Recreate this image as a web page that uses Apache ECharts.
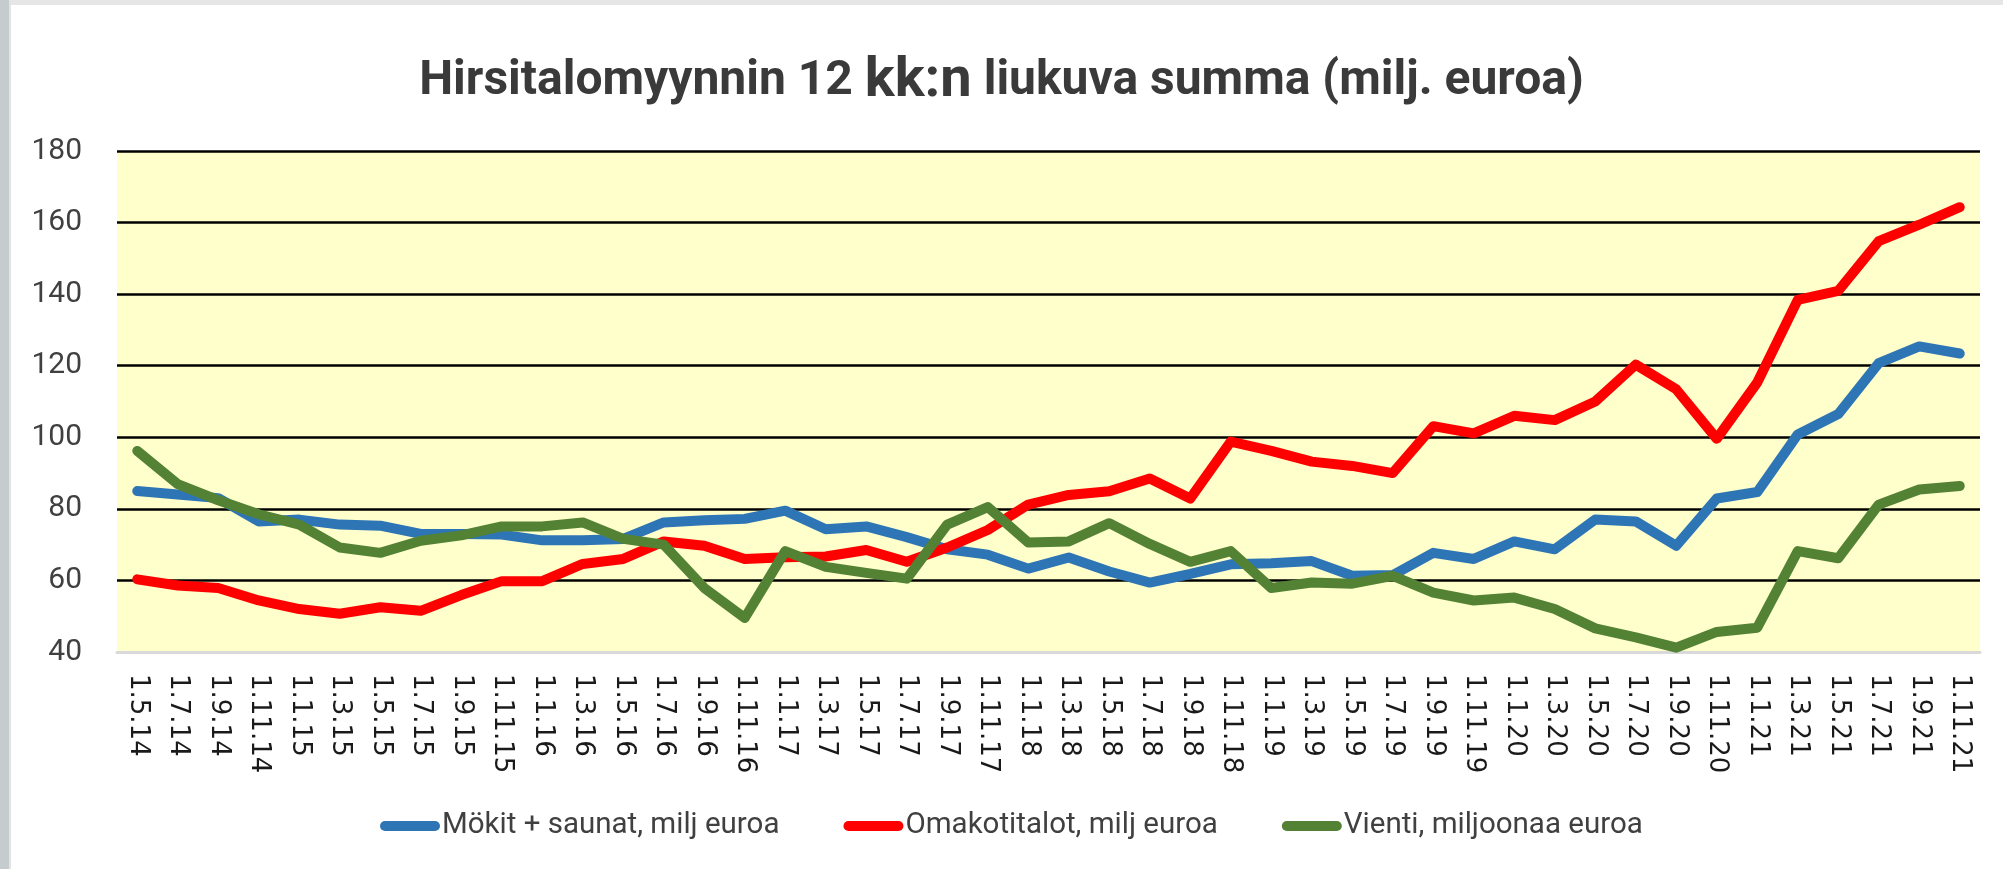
<!DOCTYPE html>
<html><head><meta charset="utf-8">
<script src="https://cdn.jsdelivr.net/npm/echarts@6/dist/echarts.min.js"></script>
<style>html,body{margin:0;padding:0;background:#fff}#c{width:2003px;height:869px}</style>
</head><body><div id="c"></div>
<script>
const categories = ['1.5.14','1.7.14','1.9.14','1.11.14','1.1.15','1.3.15','1.5.15','1.7.15','1.9.15','1.11.15','1.1.16','1.3.16','1.5.16','1.7.16','1.9.16','1.11.16','1.1.17','1.3.17','1.5.17','1.7.17','1.9.17','1.11.17','1.1.18','1.3.18','1.5.18','1.7.18','1.9.18','1.11.18','1.1.19','1.3.19','1.5.19','1.7.19','1.9.19','1.11.19','1.1.20','1.3.20','1.5.20','1.7.20','1.9.20','1.11.20','1.1.21','1.3.21','1.5.21','1.7.21','1.9.21','1.11.21'];
const mokit = [85,84,83,76.5,77,75.6,75.3,73,73,72.8,71.2,71.2,71.6,76.2,76.8,77.2,79.5,74.3,75.1,72.1,68.7,67.2,63.3,66.4,62.5,59.4,61.8,64.5,64.8,65.4,61.3,61.5,67.7,66,70.9,68.7,77,76.5,69.7,82.9,84.7,100.8,106.5,120.7,125.4,123.4];
const omakoti = [60.3,58.6,57.9,54.4,52,50.7,52.5,51.5,55.9,59.8,59.8,64.6,66,70.9,69.7,66,66.5,66.7,68.5,65.2,69.2,74.1,81.2,83.9,84.9,88.5,82.9,98.8,96.2,93.2,92,90,103.1,101.1,106,104.8,110,120.3,113.4,99.6,115.3,138.4,140.9,154.8,159.4,164.3];
const vienti = [96.2,86.9,82.4,78.5,75.6,69.2,67.7,71.1,72.6,75.1,75.1,76.2,71.6,70,57.9,49.5,68.2,63.8,62.1,60.5,75.6,80.5,70.6,70.9,76,70.2,65.2,68.2,57.9,59.4,59.1,61.3,56.6,54.4,55.2,52,46.6,44.1,41.2,45.6,46.8,68.2,66.2,81.2,85.4,86.4];
const yTicks = [40,60,80,100,120,140,160,180];
const seriesNames = ['Mökit + saunat, milj euroa','Omakotitalot, milj euroa','Vienti, miljoonaa euroa'];
const titleParts = ['Hirsitalomyynnin 12 ','kk:n',' liukuva summa (milj. euroa)'];

const chart = echarts.init(document.getElementById('c'));
const mk = (name, data, color) => ({
  name, type:'line', data, symbol:'none', smooth:false,
  lineStyle:{color, width:10, cap:'round', join:'round'}, itemStyle:{color}
});
const icon = 'path://M5,0 L55,0 A5,5 0 0 1 55,10 L5,10 A5,5 0 0 1 5,0 Z';
chart.setOption({
  animation:false,
  backgroundColor:'#ffffff',
  graphic:[
    {type:'rect', shape:{x:0,y:0,width:2003,height:5}, style:{fill:'#e6e6e6'}, z:100},
    {type:'rect', shape:{x:0,y:0,width:9,height:869}, style:{fill:'#c6cccd'}, z:101},
    {type:'rect', shape:{x:9,y:0,width:2,height:869}, style:{fill:'#e2e4e4'}, z:101}
  ],
  title:{
    text:'{a|'+titleParts[0]+'}{b|'+titleParts[1]+'}{a|'+titleParts[2]+'}',
    left:'center', top:49,
    textStyle:{rich:{
      a:{fontFamily:'Roboto', fontWeight:'bold', fontSize:48, color:'#3a3a3a'},
      b:{fontFamily:'Roboto', fontWeight:'bold', fontSize:56, color:'#3a3a3a'}
    }}
  },
  grid:{left:117, right:23, top:151, bottom:217, show:true, backgroundColor:'#FFFFCC', borderWidth:0},
  legend:{
    data:seriesNames, left:375, top:806, itemWidth:60, itemHeight:10, itemGap:64,
    icon:icon,
    textStyle:{fontFamily:'Roboto', fontSize:29.5, color:'#404040', padding:[0,0,0,-3]}
  },
  xAxis:{
    type:'category', data:categories, boundaryGap:true,
    axisLine:{show:true, lineStyle:{color:'#d9d9d9', width:3}},
    axisTick:{show:false},
    axisLabel:{interval:0, rotate:-90, margin:22, fontFamily:'DejaVu Sans', fontSize:26, color:'#1a1a1a'},
    splitLine:{show:false}
  },
  yAxis:{
    type:'value', min:yTicks[0], max:yTicks[yTicks.length-1], interval:20,
    axisLine:{show:false}, axisTick:{show:false},
    axisLabel:{margin:35, fontFamily:'Roboto', fontSize:30, color:'#404040'},
    splitLine:{show:true, lineStyle:{color:['#d9d9d9','#000','#000','#000','#000','#000','#000','#000'], width:2.5}}
  },
  series:[
    mk(seriesNames[0], mokit, '#2E75B6'),
    mk(seriesNames[1], omakoti, '#FF0000'),
    mk(seriesNames[2], vienti, '#548235')
  ]
});
</script></body></html>
